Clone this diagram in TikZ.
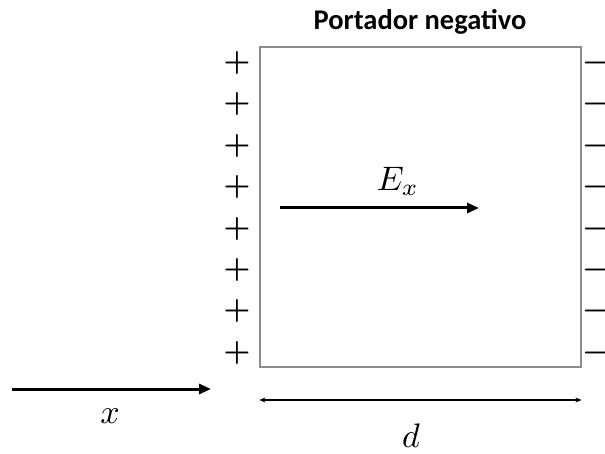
\documentclass[tikz,border=0pt]{standalone}
\usepackage{fontspec}
\newfontfamily\carlito{Carlito}
\usetikzlibrary{arrows.meta,positioning}

\begin{document}
\begin{tikzpicture}[x=1pt,y=-1pt,
  slab/.style={draw=black!45,line width=1.1pt,minimum width=321pt,minimum height=320pt,inner sep=0pt},
  sign/.style={scale=3,inner sep=0pt,font=\boldmath},
  farr/.style={-{Triangle[length=12pt,width=10pt]},line width=3pt},
  darr/.style={{Stealth[length=6pt,width=5pt]}-{Stealth[length=6pt,width=5pt]},line width=1.2pt},
  lbl/.style={scale=3.4,inner sep=0pt}]
\useasboundingbox (0,0) rectangle (605,454);
\node[slab] (slab) at (420.5,207) {};
\node[font=\carlito\bfseries\fontsize{28.5}{28.5}\selectfont,inner sep=0pt] (title) at (420,22) {Portador negativo};
\foreach \i in {1,...,8}{
  \node[sign] (p\i) at (237,{63+41.4*(\i-1)}) {$+$};
  \node[sign] (m\i) at (596,{63+41.4*(\i-1)}) {$-$};
}
% campo
\coordinate (e0) at (280,208);
\coordinate (e1) at (479,208);
\draw[farr] (e0) -- (e1);
\node[lbl] (ex) at (398,181) {$E_x$};
% eje x
\coordinate (x0) at (12,389);
\coordinate (x1) at (211,389);
\draw[farr] (x0) -- (x1);
\node[lbl] (xl) at (110,416) {$x$};
% espesor
\coordinate (d0) at (slab.south west |- 0,400);
\coordinate (d1) at (slab.south east |- 0,400);
\draw[darr] (d0) -- (d1);
\node[lbl] (dl) at (411,436) {$d$};
\end{tikzpicture}
\end{document}
